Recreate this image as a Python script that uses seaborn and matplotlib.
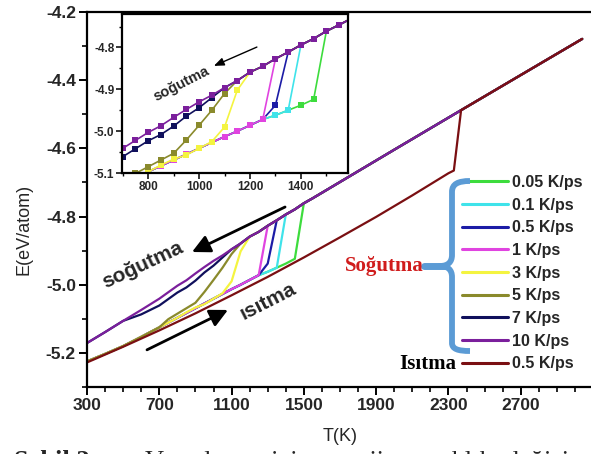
import matplotlib
matplotlib.use("Agg")
import matplotlib.pyplot as plt
from matplotlib.path import Path
from matplotlib.patches import PathPatch
from matplotlib.lines import Line2D
from matplotlib.ticker import MultipleLocator, FormatStrFormatter
import pandas as pd
import seaborn as sns

# ---- data -------------------------------------------------------------
# undercooled melt branch (cooling runs follow it until they crystallise)
T_liquid = [3040, 2700, 2370, 2000, 1550, 1500, 1450, 1400, 1350, 1300, 1250,
            1200, 1150, 1100, 1050, 1000, 950, 900, 850, 800, 750, 700, 600,
            500, 400, 300]
E_liquid = [-4.279, -4.385, -4.488, -4.604, -4.746, -4.761, -4.779, -4.794,
            -4.811, -4.827, -4.845, -4.859, -4.879, -4.896, -4.914, -4.930,
            -4.948, -4.967, -4.987, -5.003, -5.022, -5.041, -5.074, -5.106,
            -5.139, -5.171]

# crystal formed on cooling
T_crystal = [1450, 1400, 1350, 1300, 1250, 1200, 1150, 1100, 1050, 1000, 950,
             900, 850, 800, 750, 700, 600, 500, 400, 300]
E_crystal = [-4.924, -4.938, -4.950, -4.962, -4.972, -4.986, -5.000, -5.013,
             -5.027, -5.041, -5.055, -5.069, -5.083, -5.097, -5.111, -5.125,
             -5.153, -5.180, -5.203, -5.225]

rates = ["0.05 K/ps", "0.1 K/ps", "0.5 K/ps", "1 K/ps", "3 K/ps", "5 K/ps",
         "7 K/ps", "10 K/ps"]
# last temperature on the melt branch for each cooling rate
liquid_min_T = [1500, 1400, 1350, 1300, 1200, 1150, 1100, 300]
# points in the transition region
trans_T = [[], [], [1300], [],
           [1150, 1100, 1050, 1000, 950, 900, 850],
           [1100, 1050, 1000, 950, 900, 850, 800, 750],
           [1050, 1000, 950, 900, 850, 800, 750, 700, 600],
           []]
trans_E = [[], [], [-4.938], [],
           [-4.902, -4.990, -5.025, -5.041, -5.057, -5.067, -5.081],
           [-4.910, -4.950, -4.986, -5.021, -5.053, -5.069, -5.085, -5.101],
           [-4.920, -4.944, -4.964, -4.988, -5.008, -5.023, -5.042, -5.061, -5.087],
           []]
# branch reached at the end of the run and the temperature where it starts
end_branch = ["crystal", "crystal", "crystal", "crystal", "crystal", "crystal",
              "liquid", None]
end_from_T = [1450, 1350, 1250, 1250, 800, 700, 500, None]

# heating run, 0.5 K/ps
T_heat = [300, 500, 700, 900, 1100, 1300, 1500, 1700, 1900, 2100, 2300, 2330,
          2370, 2700, 3040]
E_heat = [-5.228, -5.182, -5.134, -5.084, -5.031, -4.977, -4.920, -4.861,
          -4.801, -4.738, -4.673, -4.665, -4.488, -4.385, -4.279]

colors = ["#3ddc3d", "#3fe3ea", "#1c1ca6", "#e044e0", "#f4f440", "#8a8a2c",
          "#10105c", "#7b1f9c"]
heat_color = "#7a0f12"

# ---- build long-form table -------------------------------------------
rows = []
for i, rate in enumerate(rates):
    for t, e in zip(T_liquid, E_liquid):
        if t >= liquid_min_T[i]:
            rows.append((rate, t, e))
    for t, e in zip(trans_T[i], trans_E[i]):
        rows.append((rate, t, e))
    if end_branch[i] == "crystal":
        for t, e in zip(T_crystal, E_crystal):
            if t <= end_from_T[i]:
                rows.append((rate, t, e))
    elif end_branch[i] == "liquid":
        for t, e in zip(T_liquid, E_liquid):
            if t <= end_from_T[i]:
                rows.append((rate, t, e))
df = pd.DataFrame(rows, columns=["rate", "T", "E"])
heat = pd.DataFrame({"T": T_heat, "E": E_heat})

# ---- style -----------------------------------------------------------
sns.set_theme(style="ticks")
plt.rcParams["font.family"] = ["Liberation Sans", "DejaVu Sans"]
plt.rcParams["axes.unicode_minus"] = False
SERIF = ["Liberation Serif", "DejaVu Serif"]

W, H = 591, 454
fig = plt.figure(figsize=(W / 100, H / 100), dpi=100)


def fx(px):
    return px / W


def fy(py):
    return 1 - py / H


palette = dict(zip(rates, colors))

# ---- main axes -------------------------------------------------------
ax = fig.add_axes([fx(87), fy(387), (593 - 87) / W, (387 - 12) / H])
sns.lineplot(data=df, x="T", y="E", hue="rate", hue_order=rates,
             palette=palette, sort=False, estimator=None, linewidth=1.6,
             legend=False, ax=ax)
sns.lineplot(data=heat, x="T", y="E", color=heat_color, sort=False,
             estimator=None, linewidth=1.6, ax=ax)
ax.set_xlim(300, 3100)
ax.set_ylim(-5.3, -4.2)
ax.xaxis.set_minor_locator(MultipleLocator(100))
ax.yaxis.set_major_locator(MultipleLocator(0.2))
ax.yaxis.set_minor_locator(MultipleLocator(0.1))
ax.set_xticks([300, 700, 1100, 1500, 1900, 2300, 2700])
ax.yaxis.set_major_formatter(FormatStrFormatter("%.1f"))
ax.tick_params(which="major", direction="out", length=6, width=1.4,
               labelsize=12.5, color="black", pad=2)
ax.tick_params(which="minor", direction="out", length=3.5, width=1.2,
               color="black")
for lab in ax.get_xticklabels() + ax.get_yticklabels():
    lab.set_fontweight("bold")
for s in ax.spines.values():
    s.set_linewidth(1.6)
    s.set_color("black")
ax.set_xlabel("T(K)", fontsize=13, labelpad=11)
ax.set_ylabel("E(eV/atom)", fontsize=13)
ax.yaxis.set_label_coords(-0.107, 0.42)

# annotations on the main panel
ax.text(610, -4.942, "soğutma", rotation=25, ha="center", va="center",
        fontsize=15, fontweight="bold", rotation_mode="anchor")
ax.text(1302, -5.048, "ısıtma", rotation=27, ha="center", va="center",
        fontsize=15, fontweight="bold", rotation_mode="anchor")
ax.annotate("", xy=(881, -4.904), xytext=(1396, -4.772),
            arrowprops=dict(arrowstyle="-|>,head_length=0.9,head_width=0.45",
                            color="black", lw=2.0, shrinkA=0, shrinkB=0))
ax.annotate("", xy=(1080, -5.074), xytext=(632, -5.191),
            arrowprops=dict(arrowstyle="-|>,head_length=0.9,head_width=0.45",
                            color="black", lw=2.0, shrinkA=0, shrinkB=0))

# legend
handles = [Line2D([], [], color=c, lw=2.2) for c in colors]
handles.append(Line2D([], [], color=heat_color, lw=2.2))
labels = rates + ["0.5 K/ps"]
leg = ax.legend(handles, labels, loc="upper left",
                bbox_to_anchor=(fx(462), fy(175)),
                bbox_transform=fig.transFigure, frameon=False,
                handlelength=2.9, handletextpad=0.2, labelspacing=0.48,
                borderpad=0, borderaxespad=0,
                prop=dict(size=11.5, weight="bold"))

# curly brace grouping the cooling runs
brace = [(470, 181), (458, 181), (452, 184), (452, 192),
         (452, 255),
         (452, 262), (448, 266), (440, 266),
         (448, 266), (452, 270), (452, 277),
         (452, 343),
         (452, 349), (458, 351), (470, 351)]
codes = [Path.MOVETO, Path.CURVE4, Path.CURVE4, Path.CURVE4,
         Path.LINETO,
         Path.CURVE4, Path.CURVE4, Path.CURVE4,
         Path.CURVE4, Path.CURVE4, Path.CURVE4,
         Path.LINETO,
         Path.CURVE4, Path.CURVE4, Path.CURVE4]
verts = [(fx(x), fy(y)) for x, y in brace]
fig.add_artist(PathPatch(Path(verts, codes), fill=False, edgecolor="#5b9bd5",
                         lw=4.2, transform=fig.transFigure,
                         capstyle="butt", joinstyle="round"))
fig.add_artist(Line2D([fx(424), fx(446)], [fy(266), fy(266)], color="#5b9bd5",
                      lw=5, transform=fig.transFigure))
fig.text(fx(424), fy(266), "Soğutma", ha="right", va="center",
         fontsize=15, fontweight="bold", color="#d01c1c", family=SERIF)
fig.text(fx(456), fy(364), "Isıtma", ha="right", va="center",
         fontsize=15, fontweight="bold", color="black", family=SERIF)

# ---- inset -----------------------------------------------------------
axin = fig.add_axes([fx(122), fy(173), (348 - 122) / W, (173 - 14) / H])
axin.set_facecolor("white")
sns.lineplot(data=df, x="T", y="E", hue="rate", hue_order=rates,
             palette=palette, sort=False, estimator=None, linewidth=1.2,
             marker="s", markersize=4.2, markeredgewidth=0, legend=False,
             ax=axin)
axin.set_xlim(697, 1585)
axin.set_ylim(-5.1, -4.72)
axin.xaxis.set_major_locator(MultipleLocator(200))
axin.xaxis.set_minor_locator(MultipleLocator(100))
axin.yaxis.set_major_locator(MultipleLocator(0.1))
axin.yaxis.set_minor_locator(MultipleLocator(0.05))
axin.yaxis.set_major_formatter(FormatStrFormatter("%.1f"))
axin.tick_params(which="major", direction="out", length=4, width=1.1,
                 labelsize=8.5, pad=1.5, color="black")
axin.tick_params(which="minor", direction="out", length=2.5, width=1.0,
                 color="black")
for lab in axin.get_xticklabels() + axin.get_yticklabels():
    lab.set_fontweight("bold")
axin.set_xlabel("")
axin.set_ylabel("")
for s in axin.spines.values():
    s.set_linewidth(1.6)
    s.set_color("black")
axin.text(929, -4.887, "soğutma", rotation=27, ha="center", va="center",
          fontsize=10.5, fontweight="bold", rotation_mode="anchor")
axin.annotate("", xy=(1058, -4.844), xytext=(1227, -4.799),
              arrowprops=dict(arrowstyle="-|>,head_length=0.5,head_width=0.2",
                              color="black", lw=1.0, shrinkA=0, shrinkB=0))

# ---- caption line under the figure -----------------------------------
fig.text(fx(14), fy(468), "Şekil 2-", fontsize=19, fontweight="bold",
         family=SERIF, va="baseline")
fig.text(fx(145), fy(468), "Vanadyum  için  enerji – sıcaklık  değişimi",
         fontsize=19, family=SERIF, va="baseline")

fig.savefig("out.png", dpi=100)
